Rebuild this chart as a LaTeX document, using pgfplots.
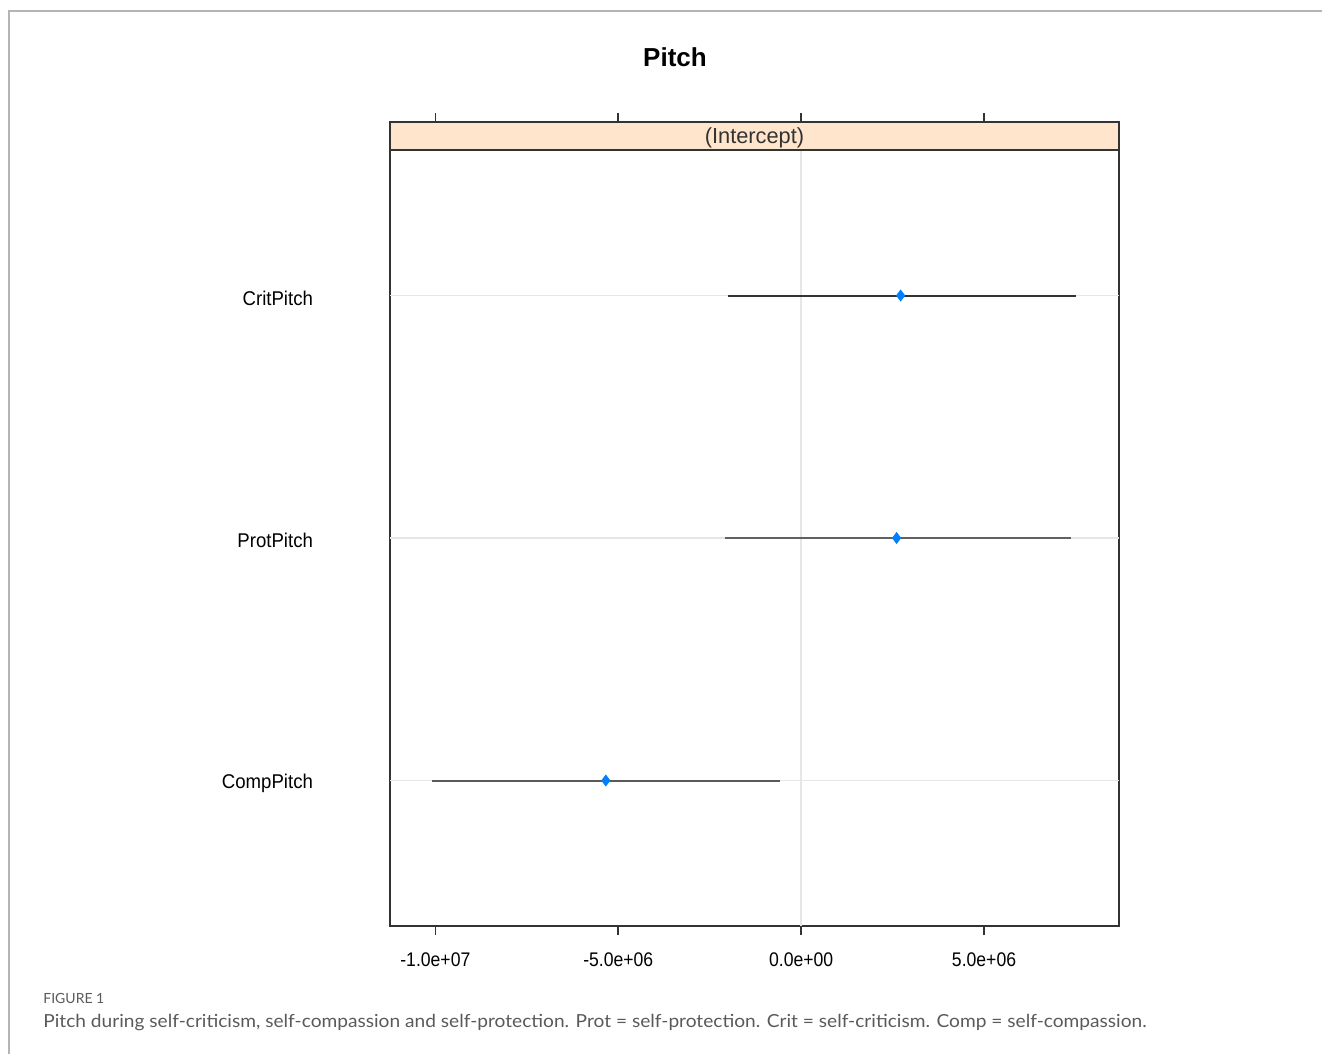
\documentclass[border=0pt]{standalone}
\usepackage{pgfplots}
\pgfplotsset{compat=1.18}
\usepackage{fontspec}
\setmainfont{Liberation Sans}
\newfontfamily\capfont{Lato}
\usepackage{graphicx}
\definecolor{strip}{HTML}{FFE5CC}
\definecolor{dotblue}{HTML}{0080FF}
\definecolor{refgray}{HTML}{E6E6E6}
\definecolor{framegray}{HTML}{B4B4B4}
\definecolor{capgray}{HTML}{5A5A5A}
\definecolor{axgray}{HTML}{333333}
\newcommand{\xs}[1]{\scalebox{1}[1.12]{#1}}
\newcommand{\ys}[1]{\scalebox{1}[1.07]{#1}}

\begin{document}
\begin{tikzpicture}
\path[use as bounding box] (0,0) rectangle (661pt,-527pt);
\draw[framegray, line width=1pt] (4.5pt,-527pt) -- (4.5pt,-5.5pt) -- (661pt,-5.5pt);
\node[anchor=base, inner sep=0, font=\bfseries\fontsize{13}{15}\selectfont] at (337.5pt,-33.5pt) {Pitch};
\begin{axis}[at={(195pt,-463pt)}, anchor=south west, scale only axis,
  width=364.5pt, height=388pt,
  xmin=-11.24e6, xmax=8.69e6, ymin=0.4, ymax=3.6, clip=false,
  axis line style={draw=axgray, line width=1pt},
  xtick={-1e7,-5e6,0,5e6},
  xticklabels={\xs{-1.0e+07},\xs{-5.0e+06},\xs{0.0e+00},\xs{5.0e+06}},
  ytick={1,2,3}, yticklabels={\ys{CompPitch},\ys{ProtPitch},\ys{CritPitch}},
  xtick pos=bottom, tick align=outside, major tick length=4.5pt,
  xtick style={draw=axgray, line width=0.8pt},
  ytick style={draw=none},
  xticklabel style={font=\fontsize{8.8}{11}\selectfont, yshift=-5.5pt},
  yticklabel style={font=\fontsize{9.3}{11}\selectfont, xshift=-30.5pt, yshift=-1.2pt},
  scaled x ticks=false,
]
% reference lines
\draw[refgray, line width=0.8pt] (axis cs:-11.24e6,3) -- (axis cs:8.69e6,3);
\draw[refgray, line width=0.8pt] (axis cs:-11.24e6,2) -- (axis cs:8.69e6,2);
\draw[refgray, line width=0.8pt] (axis cs:-11.24e6,1) -- (axis cs:8.69e6,1);
\draw[refgray, line width=0.8pt] (axis cs:0,0.4) -- (axis cs:0,3.6);
% intervals
\addplot[axgray, line width=1pt] coordinates {(-2.005e6,3) (7.51e6,3)};
\addplot[black!62, line width=1pt] coordinates {(-2.09e6,2) (7.39e6,2)};
\addplot[black!65, line width=1pt] coordinates {(-10.08e6,1) (-0.585e6,1)};
\addplot[only marks, mark=diamond*, mark size=2.7pt, color=dotblue]
  coordinates {(2.72e6,3) (2.61e6,2) (-5.34e6,1)};
% strip
\draw[axgray, line width=1pt, fill=strip] (rel axis cs:0,1) rectangle ([yshift=14pt]rel axis cs:1,1);
\node[font=\fontsize{10.9}{12}\selectfont, text=axgray] at ([yshift=6pt]rel axis cs:0.5,1) {(Intercept)};
\draw[axgray, line width=0.8pt] ([yshift=14pt]axis cs:-1e7,3.6) -- ++(0pt,4.5pt);
\draw[axgray, line width=0.8pt] ([yshift=14pt]axis cs:-5e6,3.6) -- ++(0pt,4.5pt);
\draw[axgray, line width=0.8pt] ([yshift=14pt]axis cs:0,3.6) -- ++(0pt,4.5pt);
\draw[axgray, line width=0.8pt] ([yshift=14pt]axis cs:5e6,3.6) -- ++(0pt,4.5pt);
\end{axis}
\node[anchor=base west, inner sep=0, font=\capfont\fontsize{7}{8}\selectfont, text=capgray] at (21.5pt,-501.5pt) {FIGURE 1};
\node[anchor=base west, inner sep=0, text=capgray] at (21.5pt,-513.5pt) {\resizebox{551.5pt}{\height}{\capfont\fontsize{9}{11}\selectfont Pitch during self-criticism, self-compassion and self-protection. Prot = self-protection. Crit = self-criticism. Comp = self-compassion.}};
\end{tikzpicture}
\end{document}
